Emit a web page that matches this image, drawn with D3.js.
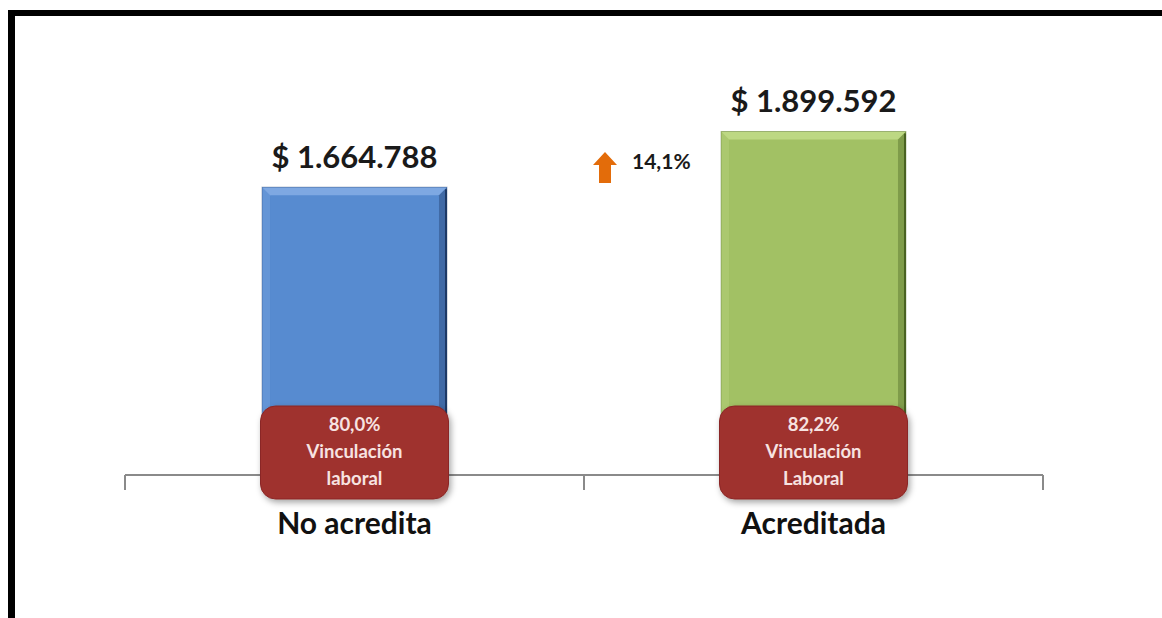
<!DOCTYPE html>
<html>
<head>
<meta charset="utf-8">
<script src="https://cdn.jsdelivr.net/npm/d3@7"></script>
<style>
  body { margin: 0; background: #fff; }
  svg { display: block; }
</style>
</head>
<body>
<div id="chart"></div>
<script>
// Data
const categories   = ["No acredita", "Acreditada"];
const salaries     = [1664788, 1899592];
const vinculacion  = [80.0, 82.2];
const vincLabel2   = ["laboral", "Laboral"];
const barColors    = ["#578bd0", "#a2c164"];
const bevelLight   = ["#7ea8e2", "#bdd883"];
const bevelDark    = ["#1e3a66", "#4a6322"];

const width = 1162, height = 618;

const es = d3.formatLocale({decimal: ",", thousands: ".", grouping: [3], currency: ["$ ", ""]});
const fmtMoney = es.format("$,.0f");
const fmtPct   = es.format(".1f");

const svg = d3.select("#chart")
  .append("svg")
    .attr("width", width)
    .attr("height", height)
    .style("font-family", "Lato, 'Open Sans', sans-serif");

const defs = svg.append("defs");
defs.append("filter")
    .attr("id", "shadow")
    .attr("x", "-10%").attr("y", "-10%").attr("width", "130%").attr("height", "140%")
  .append("feDropShadow")
    .attr("dx", 2).attr("dy", 3).attr("stdDeviation", 3)
    .attr("flood-color", "#000").attr("flood-opacity", 0.35);

// frame (top + left black bands)
svg.append("rect").attr("x", 8).attr("y", 10).attr("width", width - 8).attr("height", 6).attr("fill", "#000");
svg.append("rect").attr("x", 8).attr("y", 10).attr("width", 7).attr("height", height - 10).attr("fill", "#000");

// Scales
const x = d3.scaleBand()
  .domain(categories)
  .range([125, 1043])
  .padding(0);

const y = d3.scaleLinear()
  .domain([450000, 2100000])
  .range([475, 84]);

const barW = x.bandwidth() * 0.403;
const bev = 8;

// axis
const axisY = y.range()[0];
const ticks = [x.range()[0]].concat(categories.slice(1).map(c => x(c)), [x.range()[1]]);
svg.append("line")
    .attr("x1", x.range()[0]).attr("x2", x.range()[1])
    .attr("y1", axisY).attr("y2", axisY)
    .attr("stroke", "#8a8a8a").attr("stroke-width", 2);
svg.selectAll(".tick")
  .data(ticks)
  .enter().append("line")
    .attr("x1", d => d).attr("x2", d => d)
    .attr("y1", axisY).attr("y2", axisY + 15)
    .attr("stroke", "#8a8a8a").attr("stroke-width", 2);

// bars
const bars = svg.selectAll(".bar")
  .data(categories)
  .enter().append("g")
    .attr("class", "bar");

bars.each(function(c, i) {
  const g = d3.select(this);
  const x0 = x(c) + (x.bandwidth() - barW) / 2, x1 = x0 + barW;
  const y0 = y(salaries[i]), y1 = axisY;
  g.append("rect")
    .attr("x", x0).attr("y", y0).attr("width", barW).attr("height", y1 - y0)
    .attr("fill", barColors[i]);
  // top bevel
  g.append("path")
    .attr("d", `M${x0},${y0}L${x1},${y0}L${x1 - bev},${y0 + bev}L${x0 + bev},${y0 + bev}Z`)
    .attr("fill", bevelLight[i]);
  // left bevel
  g.append("path")
    .attr("d", `M${x0},${y0}L${x0 + bev},${y0 + bev}L${x0 + bev},${y1}L${x0},${y1}Z`)
    .attr("fill", bevelLight[i]).attr("opacity", 0.35);
  // right bevel
  g.append("path")
    .attr("d", `M${x1},${y0}L${x1 - bev},${y0 + bev}L${x1 - bev},${y1}L${x1},${y1}Z`)
    .attr("fill", bevelDark[i]).attr("opacity", 0.4);
  g.append("line")
    .attr("x1", x1 - 1).attr("x2", x1 - 1).attr("y1", y0 + 2).attr("y2", y1)
    .attr("stroke", bevelDark[i]).attr("stroke-width", 2);
  g.append("rect")
    .attr("x", x0).attr("y", y0).attr("width", barW).attr("height", y1 - y0)
    .attr("fill", "none").attr("stroke", bevelDark[i]).attr("stroke-opacity", 0.35);

  // value label
  g.append("text")
    .attr("x", x(c) + x.bandwidth() / 2)
    .attr("y", y0 - 19)
    .attr("text-anchor", "middle")
    .style("font-size", "31px").style("font-weight", "bold").style("fill", "#1a1a1a")
    .text(fmtMoney(salaries[i]));

  // vinculacion box
  const bx = x(c) + x.bandwidth() / 2;
  const bw = 188, top = axisY - 69, bh = 93;
  g.append("rect")
    .attr("x", bx - bw / 2).attr("y", top).attr("width", bw).attr("height", bh)
    .attr("rx", 15).attr("ry", 15)
    .attr("fill", "#9f302e").attr("stroke", "#8a2826").attr("stroke-width", 1)
    .attr("filter", "url(#shadow)");
  const lines = [fmtPct(vinculacion[i]) + "%", "Vinculación", vincLabel2[i]];
  g.selectAll(".vl")
    .data(lines)
    .enter().append("text")
      .attr("x", bx)
      .attr("y", (d, k) => top + 25 + k * 27)
      .attr("text-anchor", "middle")
      .style("font-size", "18.5px").style("font-weight", "bold").style("fill", "#f7e3e1")
      .text(d => d);

  // category label
  g.append("text")
    .attr("x", bx)
    .attr("y", 534)
    .attr("text-anchor", "middle")
    .style("font-size", "30px").style("font-weight", "bold").style("fill", "#111")
    .text(c);
});

// growth arrow + percentage
const growth = (salaries[1] / salaries[0] - 1) * 100;
const ax = 605, ayTop = 152, ayBot = 183;
svg.append("path")
  .attr("d", `M${ax},${ayTop}L${ax + 12},${ayTop + 13}L${ax + 6},${ayTop + 13}L${ax + 6},${ayBot}L${ax - 6},${ayBot}L${ax - 6},${ayTop + 13}L${ax - 12},${ayTop + 13}Z`)
  .attr("fill", "#e36c0a");
svg.append("text")
  .attr("x", 632)
  .attr("y", 169)
  .style("font-size", "21px").style("font-weight", "bold").style("fill", "#1a1a1a")
  .text(fmtPct(growth) + "%");
</script>
</body>
</html>
